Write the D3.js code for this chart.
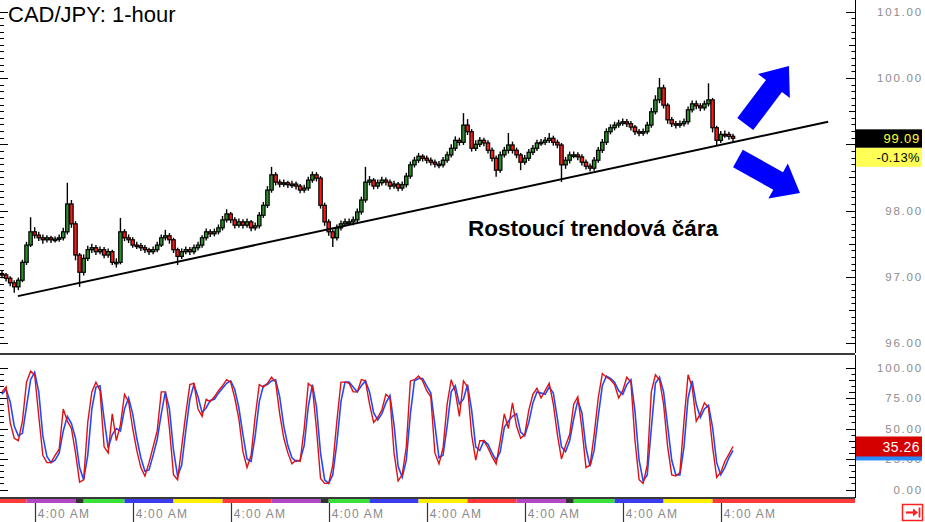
<!DOCTYPE html>
<html><head><meta charset="utf-8">
<script src="https://cdn.jsdelivr.net/npm/d3@7"></script>
<style>html,body{margin:0;padding:0;background:#fff;}svg{display:block;}</style>
</head><body>
<svg id="c" width="925" height="522"></svg>
<script>
// ---------------- DATA ----------------
const title = "CAD/JPY: 1-hour";
const annotation = "Rostoucí trendová čára";
const opens = [97.05,97.03,96.98,96.91,96.85,96.95,97.22,97.48,97.68,97.63,
97.59,97.56,97.59,97.56,97.57,97.59,97.68,98.10,97.80,97.33,
97.07,97.28,97.41,97.44,97.38,97.41,97.33,97.38,97.22,97.22,
97.68,97.59,97.56,97.48,97.47,97.44,97.41,97.38,97.41,97.48,
97.59,97.62,97.56,97.41,97.31,97.38,97.41,97.38,97.44,97.48,
97.59,97.68,97.65,97.68,97.74,97.86,97.95,97.86,97.78,97.83,
97.78,97.83,97.74,97.77,97.93,98.08,98.31,98.54,98.43,98.40,
98.42,98.39,98.40,98.37,98.31,98.34,98.46,98.54,98.49,98.08,
97.83,97.68,97.59,97.74,97.80,97.83,97.83,97.86,97.98,98.16,
98.43,98.46,98.37,98.42,98.46,98.43,98.37,98.40,98.34,98.39,
98.52,98.69,98.76,98.82,98.79,98.76,98.73,98.70,98.69,98.76,
98.84,98.94,99.06,99.03,99.29,99.19,98.94,99.00,99.06,99.02,
98.91,98.79,98.61,98.84,98.91,98.99,98.91,98.84,98.73,98.79,
98.88,98.94,99.02,99.03,99.06,99.09,99.03,98.99,98.69,98.76,
98.84,98.84,98.81,98.73,98.67,98.64,98.76,98.91,99.03,99.19,
99.25,99.29,99.32,99.34,99.31,99.26,99.19,99.17,99.19,99.29,
99.49,99.67,99.85,99.59,99.37,99.31,99.29,99.31,99.34,99.52,
99.61,99.58,99.55,99.61,99.67,99.25,99.06,99.15,99.15,99.12];
const highs = [97.10,97.06,97.01,96.95,96.99,97.26,97.53,97.90,97.75,97.68,
97.64,97.63,97.62,97.61,97.64,97.74,98.42,98.16,97.84,97.36,
97.34,97.47,97.50,97.48,97.46,97.45,97.43,97.41,97.28,97.89,
97.72,97.64,97.60,97.53,97.51,97.48,97.44,97.46,97.53,97.64,
97.71,97.66,97.59,97.44,97.43,97.46,97.45,97.49,97.53,97.63,
97.73,97.72,97.73,97.79,97.92,98.02,97.98,97.90,97.88,97.87,
97.88,97.86,97.82,97.98,98.13,98.37,98.66,98.58,98.47,98.47,
98.45,98.45,98.44,98.40,98.39,98.51,98.59,98.58,98.52,98.12,
97.87,97.72,97.79,97.85,97.88,97.88,97.91,98.03,98.21,98.66,
98.52,98.49,98.47,98.51,98.50,98.47,98.45,98.43,98.44,98.57,
98.74,98.81,98.87,98.85,98.83,98.80,98.77,98.75,98.81,98.89,
99.00,99.12,99.10,99.47,99.38,99.23,99.06,99.11,99.10,99.06,
98.95,98.83,98.89,98.96,99.17,99.04,98.95,98.87,98.84,98.93,
98.99,99.07,99.08,99.11,99.17,99.13,99.07,99.02,98.81,98.89,
98.89,98.88,98.85,98.77,98.71,98.81,98.96,99.08,99.24,99.30,
99.34,99.37,99.39,99.38,99.35,99.29,99.23,99.24,99.34,99.55,
99.74,100.00,99.90,99.62,99.41,99.35,99.36,99.39,99.57,99.66,
99.66,99.62,99.66,99.92,99.70,99.28,99.20,99.21,99.19,99.16];
const lows = [96.98,96.93,96.86,96.76,96.80,96.92,97.18,97.45,97.58,97.54,
97.50,97.52,97.51,97.52,97.53,97.55,97.64,97.74,97.25,96.85,
97.02,97.24,97.36,97.33,97.34,97.28,97.29,97.18,97.14,97.19,
97.54,97.51,97.44,97.42,97.39,97.36,97.33,97.34,97.37,97.45,
97.55,97.50,97.36,97.18,97.27,97.34,97.33,97.34,97.40,97.44,
97.55,97.60,97.61,97.64,97.70,97.82,97.81,97.73,97.74,97.73,
97.74,97.69,97.70,97.73,97.89,98.04,98.27,98.38,98.35,98.36,
98.34,98.34,98.32,98.26,98.27,98.30,98.42,98.44,98.03,97.77,
97.62,97.45,97.55,97.70,97.76,97.78,97.78,97.82,97.94,98.12,
98.38,98.32,98.33,98.38,98.38,98.32,98.33,98.29,98.30,98.35,
98.48,98.65,98.72,98.74,98.71,98.68,98.65,98.64,98.65,98.72,
98.80,98.90,98.98,98.99,99.14,98.89,98.90,98.96,98.97,98.86,
98.74,98.51,98.57,98.80,98.86,98.86,98.79,98.61,98.69,98.75,
98.84,98.90,98.98,98.99,99.02,98.98,98.94,98.43,98.63,98.71,
98.79,98.76,98.68,98.62,98.59,98.60,98.72,98.87,98.99,99.15,
99.21,99.25,99.28,99.26,99.21,99.14,99.12,99.13,99.15,99.25,
99.45,99.62,99.54,99.31,99.26,99.24,99.25,99.27,99.30,99.48,
99.53,99.50,99.51,99.57,99.18,98.99,99.02,99.10,99.07,99.04];
const closes = [97.03,96.98,96.91,96.85,96.95,97.22,97.48,97.68,97.63,97.59,
97.56,97.59,97.56,97.57,97.59,97.68,98.10,97.80,97.33,97.07,
97.28,97.41,97.44,97.38,97.41,97.33,97.38,97.22,97.22,97.68,
97.59,97.56,97.48,97.47,97.44,97.41,97.38,97.41,97.48,97.59,
97.62,97.56,97.41,97.31,97.38,97.41,97.38,97.44,97.48,97.59,
97.68,97.65,97.68,97.74,97.86,97.95,97.86,97.78,97.83,97.78,
97.83,97.74,97.77,97.93,98.08,98.31,98.54,98.43,98.40,98.42,
98.39,98.40,98.37,98.31,98.34,98.46,98.54,98.49,98.08,97.83,
97.68,97.59,97.74,97.80,97.83,97.83,97.86,97.98,98.16,98.43,
98.46,98.37,98.42,98.46,98.43,98.37,98.40,98.34,98.39,98.52,
98.69,98.76,98.82,98.79,98.76,98.73,98.70,98.69,98.76,98.84,
98.94,99.06,99.03,99.29,99.19,98.94,99.00,99.06,99.02,98.91,
98.79,98.61,98.84,98.91,98.99,98.91,98.84,98.73,98.79,98.88,
98.94,99.02,99.03,99.06,99.09,99.03,98.99,98.69,98.76,98.84,
98.84,98.81,98.73,98.67,98.64,98.76,98.91,99.03,99.19,99.25,
99.29,99.32,99.34,99.31,99.26,99.19,99.17,99.19,99.29,99.49,
99.67,99.85,99.59,99.37,99.31,99.29,99.31,99.34,99.52,99.61,
99.58,99.55,99.61,99.67,99.25,99.06,99.15,99.15,99.12,99.09];
const stochK = [80,84,55,42,40,56,88,97,94,60,
28,22,22,28,33,66,56,50,30,6,
8,55,80,88,81,35,30,62,40,53,
78,72,50,32,18,11,22,35,48,80,
80,50,12,8,35,62,86,87,66,60,
74,72,76,81,85,90,88,75,58,31,
18,28,60,86,84,87,92,88,62,42,
30,21,24,23,50,87,84,50,9,5,
5,20,56,88,88,87,80,80,90,89,
70,55,59,65,78,75,30,7,12,35,
89,90,93,89,81,76,30,21,34,70,
90,80,60,89,84,45,24,40,40,34,
27,21,40,62,50,71,52,42,45,65,
78,83,75,81,87,70,45,25,36,45,
70,76,50,18,20,45,75,95,92,90,
86,75,81,92,88,40,8,5,20,80,
94,90,70,35,12,11,14,56,94,84,
56,62,71,67,35,10,14,23,29,35.26];
const stochD = [78,82,72,52,44,46,68,90,96,80,
44,27,22,24,30,48,60,54,42,18,
8,28,66,84,85,58,34,45,50,48,
66,75,62,42,26,15,16,28,41,62,
80,66,32,11,20,48,74,86,76,63,
67,73,74,79,83,87,89,82,67,45,
25,23,44,72,85,86,89,90,76,52,
36,26,23,24,36,68,86,68,30,8,
5,12,38,72,88,88,84,80,85,89,
80,63,57,62,71,77,53,19,10,24,
62,89,91,91,85,79,53,26,28,52,
80,85,70,74,86,65,35,32,40,37,
30,24,31,51,56,60,62,47,44,55,
71,80,79,78,84,79,58,35,31,40,
58,73,63,34,19,32,60,85,93,91,
88,81,78,86,90,64,24,7,12,50,
87,92,80,52,24,12,12,35,75,89,
70,59,66,69,51,22,12,18,26,32];
const priceTicks = [96,97,98,99,100,101];
const stochTicks = [0,25,50,75,100];
const timeTickBars = [8,32,56,80,104,128,152,176];
const timeTickLabel = "4:00 AM";
const lastPrice = 99.09;
const lastChange = "-0.13%";
const trendPoints = [{bar:3.9, price:96.71},{bar:202.3, price:99.34}];
const sessionStarts = [-0.5,6,18,20,30,42,54,66,78,80,90,102,114,126,138,140,150,162,174];
const sessionPalette = ["#ff3b3b","#b348c4","#333333","#39e039","#3b3bf0","#ffee00"];
const arrows = [
  {from:{bar:182, price:99.305}, to:{bar:192.7, price:100.18}},
  {from:{bar:180.2, price:98.785}, to:{bar:195.4, price:98.265}}
];
const annotationAt = {bar:114.1, price:97.62};

// ---------------- SCALES ----------------
const svg = d3.select("#c");
const axisX = 855;
const x = d3.scaleLinear().domain([0,179]).range([2,733]);
const y = d3.scaleLinear().domain([96,101]).range([343.2,11.7]);
const ys = d3.scaleLinear().domain([0,100]).range([489.5,367.5]);
const labelFont = "'Liberation Sans', Arial, sans-serif";
const py = y(lastPrice);

// ---------------- SESSION BAND ----------------
svg.append("g").selectAll("rect").data(sessionStarts).join("rect")
  .attr("x", (d)=>Math.max(0,x(d)))
  .attr("width", (d,i)=> (i<sessionStarts.length-1 ? x(sessionStarts[i+1]) : axisX) - Math.max(0,x(d)))
  .attr("y", 499).attr("height", 4)
  .attr("fill", (d,i)=>sessionPalette[i % sessionPalette.length]);

// ---------------- PANEL LINES ----------------
svg.append("line").attr("x1",0).attr("x2",axisX).attr("y1",354).attr("y2",354)
  .attr("stroke","#3a3a3a").attr("stroke-width",2);
svg.append("line").attr("x1",0).attr("x2",axisX).attr("y1",498).attr("y2",498)
  .attr("stroke","#3a3a3a").attr("stroke-width",2);
svg.append("line").attr("x1",axisX+0.5).attr("x2",axisX+0.5).attr("y1",0).attr("y2",353)
  .attr("stroke","#000").attr("stroke-width",1);
svg.append("line").attr("x1",axisX+0.5).attr("x2",axisX+0.5).attr("y1",355).attr("y2",498)
  .attr("stroke","#000").attr("stroke-width",1);

// ---------------- PRICE AXES ----------------
const minorP = d3.range(960,1011).map(v=>v/10);
function tickLen(v, major, mid){ return major ? 9 : (mid ? 6 : 3.5); }
svg.append("g").selectAll("line").data(minorP.filter(v=>y(v)>2 && y(v)<352)).join("line")
  .attr("x1", d=>axisX - tickLen(d, Math.abs(d-Math.round(d))<1e-6, Math.abs(d*2-Math.round(d*2))<1e-6))
  .attr("x2", axisX).attr("y1", d=>Math.round(y(d))+0.5).attr("y2", d=>Math.round(y(d))+0.5)
  .attr("stroke","#000").attr("stroke-width",1);
svg.append("g").selectAll("line").data(minorP.filter(v=>y(v)>2 && y(v)<352)).join("line")
  .attr("x1", 0)
  .attr("x2", d=>Math.abs(d-Math.round(d))<1e-6 ? 8 : 4)
  .attr("y1", d=>Math.round(y(d))+0.5).attr("y2", d=>Math.round(y(d))+0.5)
  .attr("stroke","#000").attr("stroke-width",1);
// labels hidden behind the last-price box are not drawn (as in the reference)
svg.append("g").selectAll("text").data(priceTicks.filter(v=>Math.abs(y(v)-py-9)>22)).join("text")
  .attr("x", 923).attr("y", d=>y(d)).attr("dy","0.35em")
  .attr("text-anchor","end").attr("font-family",labelFont).attr("font-size","11.5px")
  .attr("letter-spacing","1.8px").attr("fill","#8c8c8c")
  .text(d=>d3.format(".2f")(d));

// ---------------- STOCH AXES ----------------
const minorS = d3.range(0,101,5);
svg.append("g").selectAll("line").data(minorS).join("line")
  .attr("x1", d=> axisX - (d%25===0 ? 9 : (d%10===0 ? 6 : 3.5)))
  .attr("x2", axisX).attr("y1", d=>Math.round(ys(d))+0.5).attr("y2", d=>Math.round(ys(d))+0.5)
  .attr("stroke","#000").attr("stroke-width",1);
svg.append("g").selectAll("line").data(minorS).join("line")
  .attr("x1", 0).attr("x2", d=> d%25===0 ? 8 : 4)
  .attr("y1", d=>Math.round(ys(d))+0.5).attr("y2", d=>Math.round(ys(d))+0.5)
  .attr("stroke","#000").attr("stroke-width",1);
svg.append("g").selectAll("text").data(stochTicks).join("text")
  .attr("x", 923).attr("y", d=>ys(d)).attr("dy","0.35em")
  .attr("text-anchor","end").attr("font-family",labelFont).attr("font-size","11.5px")
  .attr("letter-spacing","1.8px").attr("fill","#8c8c8c")
  .text(d=>d3.format(".2f")(d));

// ---------------- TIME AXIS ----------------
const tg = svg.append("g");
tg.selectAll("line").data(timeTickBars).join("line")
  .attr("x1", d=>Math.round(x(d))+0.5).attr("x2", d=>Math.round(x(d))+0.5)
  .attr("y1",503).attr("y2",522).attr("stroke","#333").attr("stroke-width",1.2);
tg.selectAll("text").data(timeTickBars).join("text")
  .attr("x", d=>x(d)+3).attr("y",518)
  .attr("font-family",labelFont).attr("font-size","12px").attr("letter-spacing","1.2px")
  .attr("fill","#8a8a8a").text(timeTickLabel);

// ---------------- CANDLES ----------------
const bars = closes.map((c,i)=>({i, o:opens[i], h:highs[i], l:lows[i], c}));
const cg = svg.append("g");
cg.selectAll("line").data(bars).join("line")
  .attr("x1", d=>x(d.i)).attr("x2", d=>x(d.i))
  .attr("y1", d=>y(d.h)).attr("y2", d=>y(d.l))
  .attr("stroke","#000").attr("stroke-width",1.4);
cg.selectAll("rect").data(bars).join("rect")
  .attr("x", d=>x(d.i)-1.7).attr("width",3.4)
  .attr("y", d=>y(Math.max(d.o,d.c)))
  .attr("height", d=>Math.max(1.5, Math.abs(y(d.o)-y(d.c))))
  .attr("fill", d=> d.c>=d.o ? "#2f8f2f" : "#ff1a1a")
  .attr("stroke","#000").attr("stroke-width",1.2);

// ---------------- TREND LINE ----------------
svg.append("line")
  .attr("x1", x(trendPoints[0].bar)).attr("y1", y(trendPoints[0].price))
  .attr("x2", x(trendPoints[1].bar)).attr("y2", y(trendPoints[1].price))
  .attr("stroke","#000").attr("stroke-width",2);

// ---------------- STOCHASTIC ----------------
const sLine = d3.line().x((d,i)=>x(i)).y(d=>ys(d));
svg.append("path").datum(stochD).attr("d", sLine).attr("fill","none")
  .attr("stroke","#1f4bff").attr("stroke-width",1.6);
svg.append("path").datum(stochK).attr("d", sLine).attr("fill","none")
  .attr("stroke","#e01010").attr("stroke-width",1.4);

// ---------------- ARROWS ----------------
function arrowPath(a){
  const x0=x(a.from.bar), y0=y(a.from.price), x1=x(a.to.bar), y1=y(a.to.price);
  const dx=x1-x0, dy=y1-y0, L=Math.hypot(dx,dy), ux=dx/L, uy=dy/L, nx=-uy, ny=ux;
  const sw=10, hw=20, hl=25;
  const bx=x1-ux*hl, by=y1-uy*hl;
  const pts=[[x0+nx*sw,y0+ny*sw],[bx+nx*sw,by+ny*sw],[bx+nx*hw,by+ny*hw],[x1,y1],
             [bx-nx*hw,by-ny*hw],[bx-nx*sw,by-ny*sw],[x0-nx*sw,y0-ny*sw]];
  return "M"+pts.map(p=>p.join(",")).join("L")+"Z";
}
svg.append("g").selectAll("path").data(arrows).join("path")
  .attr("d", arrowPath).attr("fill","#0000ff");

// ---------------- TEXT ----------------
svg.append("text").attr("x",8).attr("y",22)
  .attr("font-family",labelFont).attr("font-size","22px").attr("fill","#000").text(title);
svg.append("text").attr("x", x(annotationAt.bar)).attr("y", y(annotationAt.price))
  .attr("font-family",labelFont).attr("font-size","22.5px").attr("font-weight","bold")
  .attr("fill","#000").text(annotation);

// ---------------- LAST VALUE LABELS ----------------
svg.append("rect").attr("x",axisX+1).attr("y",py-9).attr("width",66).attr("height",18.5).attr("fill","#000");
svg.append("text").attr("x",920).attr("y",py+0.5).attr("dy","0.35em").attr("text-anchor","end")
  .attr("font-family",labelFont).attr("font-size","13px").attr("letter-spacing","0.8px")
  .attr("fill","#ffff33").text(d3.format(".2f")(lastPrice));
svg.append("rect").attr("x",axisX+1).attr("y",py+9.5).attr("width",66).attr("height",19).attr("fill","#ffff55");
svg.append("text").attr("x",920).attr("y",py+19.5).attr("dy","0.35em").attr("text-anchor","end")
  .attr("font-family",labelFont).attr("font-size","13px").attr("letter-spacing","0.4px")
  .attr("fill","#000").text(lastChange);

const dLast = stochD[stochD.length-1], kLast = stochK[stochK.length-1];
svg.append("rect").attr("x",axisX+1).attr("y",ys(dLast)-10).attr("width",66).attr("height",20).attr("fill","#2a8cff");
svg.append("rect").attr("x",axisX+1).attr("y",ys(kLast)-10).attr("width",66).attr("height",20).attr("fill","#d40000");
svg.append("text").attr("x",920).attr("y",ys(kLast)).attr("dy","0.36em").attr("text-anchor","end")
  .attr("font-family",labelFont).attr("font-size","14px").attr("letter-spacing","0.5px")
  .attr("fill","#fff").text(d3.format(".2f")(kLast));

// ---------------- BOTTOM-RIGHT ICON ----------------
const ic = svg.append("g");
ic.append("rect").attr("x",902.5).attr("y",504.5).attr("width",20).attr("height",16)
  .attr("fill","#fff").attr("stroke","#ff2020").attr("stroke-width",1.5);
ic.append("path").attr("d","M906,512.5L914,512.5").attr("stroke","#ff2020").attr("stroke-width",2.2);
ic.append("path").attr("d","M913,508.5L918,512.5L913,516.5Z").attr("fill","#ff2020");
ic.append("path").attr("d","M919.5,507.5L919.5,517.5").attr("stroke","#ff2020").attr("stroke-width",1.8);
</script>
</body></html>
